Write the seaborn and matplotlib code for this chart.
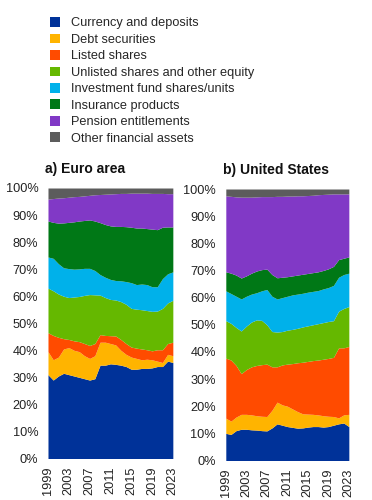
import numpy as np
import matplotlib
matplotlib.use("Agg")
import matplotlib.pyplot as plt
from matplotlib.patches import Patch
import seaborn as sns

sns.set_style("white")
plt.rcParams["font.family"] = ["Liberation Sans", "DejaVu Sans"]

years = list(range(1999, 2024))
categories = ["Currency and deposits", "Debt securities", "Listed shares",
              "Unlisted shares and other equity", "Investment fund shares/units",
              "Insurance products", "Pension entitlements", "Other financial assets"]
colors = ["#003299", "#FFB400", "#FF4B00", "#65B800", "#00B1EA", "#007816", "#8139C6", "#5C5C5C"]
x_ticks = [1999, 2003, 2007, 2011, 2015, 2019, 2023]
y_ticks = [0, 10, 20, 30, 40, 50, 60, 70, 80, 90, 100]

# Euro area: cumulative upper bound (%) of each category
ea_currency = [31, 29, 30.5, 31.5, 31, 30.5, 30, 29.5, 29, 29.5, 34.5, 34.5, 35, 34.8, 34.5, 34, 33, 33, 33.3, 33.3, 33.5, 34, 34, 36, 35.5]
ea_debt = [39.5, 36.5, 37.5, 40.5, 41, 40, 39.5, 38, 37, 38, 43, 43, 42.5, 42, 40, 38.5, 37.5, 37, 36.5, 36.7, 36.5, 36, 35.5, 38.5, 38]
ea_listed = [46.5, 45.5, 44.8, 44.3, 44, 43.5, 43.2, 42.5, 41.8, 42.5, 45.8, 45.5, 45.4, 45.3, 44, 42.5, 41.2, 40.8, 40.5, 40.2, 39.8, 40.2, 40.2, 42.5, 43]
ea_unlisted = [63, 62, 60.8, 60, 59.5, 59.7, 59.9, 60.3, 60.6, 60.5, 60.4, 59.5, 58.8, 58.6, 58, 57, 55.5, 55.2, 55, 54.7, 54.4, 54.5, 55.5, 57.5, 58.5]
ea_invfund = [74.5, 74, 72, 70.5, 70.2, 70, 70.1, 70.3, 70.3, 69.5, 68, 67, 66.2, 65.8, 65.7, 65.4, 65, 64.3, 64.5, 64.3, 63.5, 63.5, 66.5, 68.3, 69]
ea_insurance = [87.8, 87.3, 87, 87.1, 87.3, 87.5, 87.8, 88, 88.2, 87.8, 87.2, 86.5, 86, 85.8, 85.8, 85.7, 85.5, 85.2, 85.2, 85, 84.8, 84.6, 85.5, 85.6, 85.6]
ea_pension = [95.9, 96.1, 96.3, 96.4, 96.6, 96.8, 96.9, 97.1, 97.3, 97.5, 97.6, 97.7, 97.8, 97.9, 98, 98, 98.1, 98.1, 98.1, 98.1, 98, 98, 98, 97.9, 97.9]
ea_other = [100] * 25

# United States: cumulative upper bound (%) of each category
us_currency = [10, 9.6, 11, 11.5, 11.5, 11.3, 11.2, 11, 10.9, 12, 13.5, 13, 12.5, 12.2, 11.9, 12, 12.3, 12.5, 12.5, 12.3, 12.5, 13, 13.5, 13.8, 12.5]
us_debt = [15.6, 14.5, 16, 17, 17, 16.8, 16.5, 16.3, 16.2, 18.5, 21.5, 20.5, 20, 19, 18, 17.2, 17.1, 17, 16.8, 16.5, 16.3, 16.2, 15.7, 16.8, 17]
us_listed = [37.7, 37, 35, 32, 33.5, 34.5, 35, 35.3, 35.5, 34.5, 34.5, 35.2, 35.5, 35.7, 36, 36.2, 36.5, 36.8, 37, 37.3, 37.6, 38, 41.5, 41.5, 42]
us_unlisted = [51.5, 50.5, 49, 47.7, 49.5, 51, 51.8, 51.6, 50, 47.5, 47.3, 47.5, 48, 48.3, 48.7, 49.2, 49.6, 50, 50.4, 50.8, 51.2, 51.5, 55, 56, 56.7]
us_invfund = [62.5, 61.5, 60.5, 59.5, 60.5, 61.3, 61.8, 62.5, 63, 60.5, 59.5, 60, 60.5, 61, 61.3, 61.6, 62, 62.3, 62.6, 63.2, 63.7, 64.5, 67.5, 68.5, 69]
us_insurance = [69.5, 69, 68.3, 67.2, 68, 69, 69.8, 70.3, 70.5, 68.5, 67.3, 67.5, 67.7, 68, 68.3, 68.6, 68.9, 69.2, 69.5, 70, 70.6, 71.5, 74, 74.5, 75]
us_pension = [97.5, 97.3, 97.1, 97, 97, 97, 97.1, 97.2, 97.2, 97.2, 97.3, 97.3, 97.4, 97.4, 97.5, 97.5, 97.6, 97.7, 97.9, 98, 98.1, 98.2, 98.2, 98.2, 98.2]
us_other = [100] * 25

panels = [
    ("a) Euro area", [ea_currency, ea_debt, ea_listed, ea_unlisted, ea_invfund, ea_insurance, ea_pension, ea_other]),
    ("b) United States", [us_currency, us_debt, us_listed, us_unlisted, us_invfund, us_insurance, us_pension, us_other]),
]

fig = plt.figure(figsize=(3.72, 5.0), dpi=100)
axes_rects = [[0.129, 0.083, 0.344, 0.541], [0.607, 0.079, 0.339, 0.543]]

for (title, cum), rect in zip(panels, axes_rects):
    ax = fig.add_axes(rect)
    cum_arr = np.array(cum)
    shares = np.diff(np.vstack([np.zeros(len(years)), cum_arr]), axis=0)
    ax.stackplot(years, shares, colors=colors, linewidth=0)
    ax.set_xlim(1999, 2023.6)
    ax.set_ylim(0, 100)
    ax.set_xticks(x_ticks)
    ax.set_xticklabels([str(t) for t in x_ticks], rotation=90)
    ax.set_yticks(y_ticks)
    ax.set_yticklabels([f"{t}%" for t in y_ticks])
    ax.tick_params(axis="both", length=0, labelsize=9.2, colors="#222222")
    ax.tick_params(axis="y", pad=7)
    ax.tick_params(axis="x", pad=5.5)
    for s in ax.spines.values():
        s.set_visible(False)
    ax.text(-0.025, 1.07, title, transform=ax.transAxes, fontsize=10,
            fontweight="bold", ha="left", va="center", color="#111111")

handles = [Patch(facecolor=c, edgecolor="none") for c in colors]
fig.legend(handles, categories, loc="upper left", bbox_to_anchor=(0.122, 0.976),
           frameon=False, fontsize=9.2, handlelength=0.78, handleheight=0.78,
           handletextpad=0.86, labelspacing=0.33, borderaxespad=0)

fig.savefig("out.png", dpi=100)
